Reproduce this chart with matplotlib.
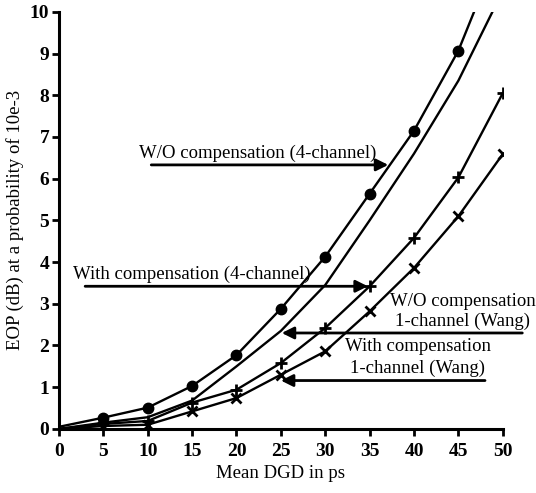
import matplotlib
matplotlib.use("Agg")
import matplotlib.pyplot as plt

plt.rcParams["font.family"] = ["Liberation Serif", "DejaVu Serif"]

# ---- data ----
dgd = [0, 5, 10, 15, 20, 25, 30, 35, 40, 45, 50]
wo_comp_4ch = [0.05, 0.27, 0.51, 1.03, 1.77, 2.88, 4.13, 5.64, 7.15, 9.07, 11.7]
with_comp_4ch = [0.0, 0.15, 0.28, 0.68, 1.5, 2.35, 3.45, 5.0, 6.6, 8.35, 10.5]
wo_comp_wang = [0.0, 0.12, 0.19, 0.63, 0.94, 1.58, 2.42, 3.42, 4.58, 6.03, 8.05]
with_comp_wang = [0.0, 0.07, 0.10, 0.42, 0.74, 1.30, 1.86, 2.82, 3.86, 5.10, 6.59]

x_ticks = list(range(0, 51, 5))
y_ticks = list(range(0, 11))

fig = plt.figure(figsize=(5.36, 4.93), dpi=100)
ax = fig.add_axes([0.110, 0.130, 0.828, 0.846])

lw = 1.7
ax.plot(dgd, wo_comp_4ch, color="k", lw=lw, marker="o", ms=7.5,
        markevery=list(range(1, 10)))
ax.plot(dgd, with_comp_4ch, color="k", lw=lw)
ax.plot(dgd, wo_comp_wang, color="k", lw=lw, marker="+", ms=8, mew=2,
        markevery=list(range(1, 11)))
ax.plot(dgd, with_comp_wang, color="k", lw=lw, marker="x", ms=7, mew=2,
        markevery=list(range(1, 11)))

ax.set_xlim(0, 50)
ax.set_ylim(0, 10)
ax.set_xticks(x_ticks)
ax.set_yticks(y_ticks)
for s in ["top", "right"]:
    ax.spines[s].set_visible(False)
for s in ["left", "bottom"]:
    ax.spines[s].set_linewidth(2.2)
ax.tick_params(width=2, length=5, labelsize=14)
ax.tick_params(axis="x", pad=5)
ax.tick_params(axis="y", pad=2)
for lab in ax.get_xticklabels() + ax.get_yticklabels():
    lab.set_fontweight("bold")

ax.set_xlabel("Mean DGD in ps", fontsize=13.5, labelpad=4)
ax.set_ylabel("EOP (dB) at a probability of 10e-3", fontsize=13.5, labelpad=4)

arrow = dict(arrowstyle="-|>", lw=2, color="k", mutation_scale=18,
             shrinkA=0, shrinkB=0)
fs = 13.5

# ---- annotations ----
ax.annotate("", xy=(37.1, 6.33), xytext=(10.4, 6.33), arrowprops=arrow)
ax.text(9.0, 6.40, "W/O compensation (4-channel)", fontsize=fs,
        ha="left", va="bottom")

ax.annotate("", xy=(34.8, 3.42), xytext=(2.95, 3.42), arrowprops=arrow)
ax.text(1.6, 3.49, "With compensation (4-channel)", fontsize=fs,
        ha="left", va="bottom")

ax.annotate("", xy=(25.1, 2.30), xytext=(52.2, 2.30), arrowprops=arrow,
            annotation_clip=False)
ax.text(45.5, 3.06, "W/O compensation", fontsize=fs, ha="center",
        va="center", clip_on=False)
ax.text(45.5, 2.58, "1-channel (Wang)", fontsize=fs, ha="center",
        va="center", clip_on=False)

ax.annotate("", xy=(25.0, 1.16), xytext=(48.0, 1.16), arrowprops=arrow)
ax.text(40.4, 1.98, "With compensation", fontsize=fs, ha="center",
        va="center")
ax.text(40.4, 1.46, "1-channel (Wang)", fontsize=fs, ha="center",
        va="center")

fig.savefig("out.png", dpi=100)
